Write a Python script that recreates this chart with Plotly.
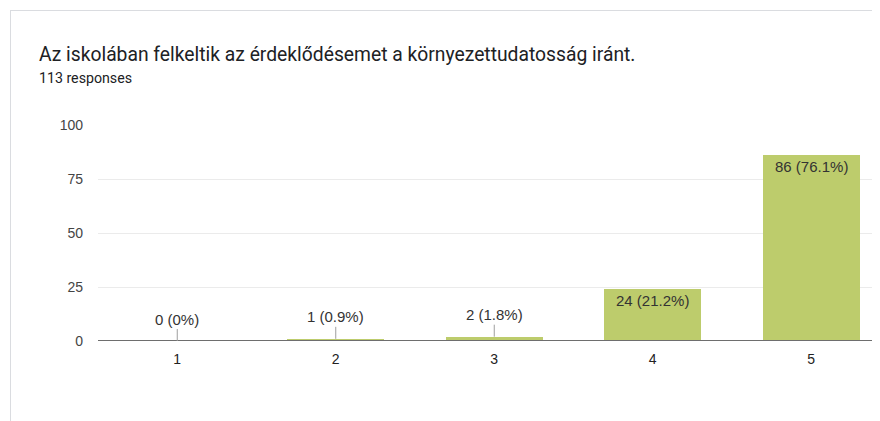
import plotly.graph_objects as go

categories = [1, 2, 3, 4, 5]
counts = [0, 1, 2, 24, 86]
labels = ["0 (0%)", "1 (0.9%)", "2 (1.8%)", "24 (21.2%)", "86 (76.1%)"]
y_ticks = [0, 25, 50, 75, 100]

title = "Az iskolában felkeltik az érdeklődésemet a környezettudatosság iránt."
subtitle = "113 responses"

# the page body has an 8px margin, so the figure starts at (8, 8)
OFF = 8
W, H = 880 - OFF, 421 - OFF
L, R, T, B = 98 - OFF, 0, 125 - OFF, 421 - 341
pw, ph = W - L - R, H - T - B

def px_x(x):
    return (x - OFF - L) / pw

def px_y(y):
    return (H - B - (y - OFF)) / ph

bar_color = "#bdcc6c"
FONT = "Liberation Sans, Arial"

fig = go.Figure()
fig.add_trace(go.Bar(
    x=categories, y=counts, width=0.615,
    marker=dict(color=bar_color, line=dict(width=0)),
    hoverinfo="skip",
))

annotations = []
for c, v, t in zip(categories, counts, labels):
    if v < 10:
        annotations.append(dict(
            x=c, y=v, xref="x", yref="y", text=t, showarrow=True,
            ax=0, ay=-22, arrowhead=0, arrowwidth=1, arrowcolor="#9e9e9e",
            standoff=0, startstandoff=0,
            font=dict(family=FONT, size=15, color="#333333"),
        ))
    else:
        annotations.append(dict(
            x=c, y=v, xref="x", yref="y", text=t, showarrow=False,
            yanchor="top", yshift=-1,
            font=dict(family=FONT, size=15, color="#333333"),
        ))

annotations.append(dict(
    x=px_x(37), y=px_y(55), xref="paper", yref="paper", text=title,
    showarrow=False, xanchor="left", yanchor="middle",
    font=dict(family="Roboto", size=19.3, color="#202124"),
))
annotations.append(dict(
    x=px_x(37), y=px_y(78), xref="paper", yref="paper", text=subtitle,
    showarrow=False, xanchor="left", yanchor="middle",
    font=dict(family="Roboto", size=14.2, color="#202124"),
))

shapes = [
    dict(type="line", xref="paper", yref="paper",
         x0=px_x(10), x1=px_x(890), y0=px_y(10.5), y1=px_y(10.5),
         line=dict(color="#dadce0", width=1)),
    dict(type="line", xref="paper", yref="paper",
         x0=px_x(10.5), x1=px_x(10.5), y0=px_y(10), y1=px_y(430),
         line=dict(color="#dadce0", width=1)),
    dict(type="line", xref="paper", yref="y",
         x0=0, x1=1, y0=0, y1=0,
         line=dict(color="#6e6e6e", width=2)),
]

fig.update_layout(
    width=W, height=H,
    margin=dict(l=L, r=R, t=T, b=B),
    paper_bgcolor="white", plot_bgcolor="white",
    showlegend=False,
    bargap=0,
    annotations=annotations,
    shapes=shapes,
    xaxis=dict(
        range=[0.5, 0.5 + pw / 158.5], tickvals=categories,
        ticktext=[str(c) for c in categories],
        showgrid=False, zeroline=False, showline=False, ticks="",
        tickfont=dict(family=FONT, size=14, color="#222222"),
        ticklabelstandoff=8,
        fixedrange=True,
    ),
    yaxis=dict(
        range=[0, 100], tickvals=y_ticks,
        showgrid=True, gridcolor="#ebebeb", gridwidth=1,
        zeroline=False, showline=False, ticks="",
        tickfont=dict(family=FONT, size=14, color="#444444"),
        ticklabelstandoff=14,
        fixedrange=True,
    ),
)

fig.write_html("out.html", config={"displayModeBar": False})
